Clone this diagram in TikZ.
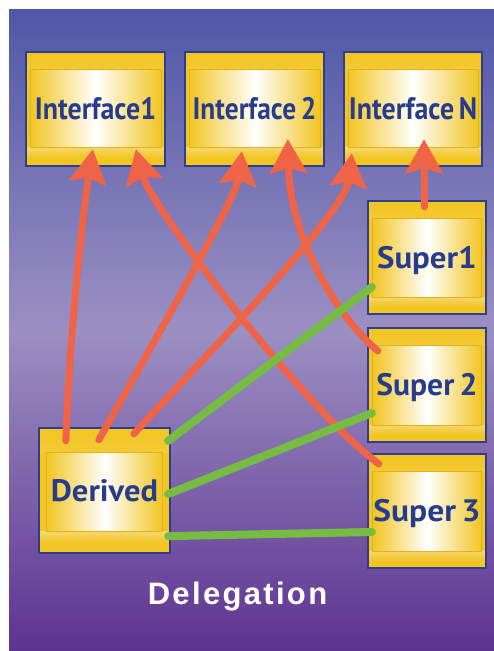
\documentclass[tikz,border=0pt]{standalone}
\usepackage{fontspec}
\setmainfont{Liberation Sans}
\newfontfamily\boxfont{PT Sans}
\newfontfamily\titlefont[LetterSpace=7.5]{Liberation Sans}
\usetikzlibrary{arrows.meta}

\definecolor{bgtop}{HTML}{4F58A7}
\definecolor{bgmid}{HTML}{9B8FC2}
\definecolor{bgbot}{HTML}{5E3391}
\definecolor{boxedge}{HTML}{2C3F8F}
\definecolor{boxyellow}{HTML}{F2C522}
\definecolor{boxlight}{HTML}{F8DD8A}
\definecolor{labelblue}{HTML}{283C8C}
\definecolor{inheritred}{HTML}{EF6446}
\definecolor{delegreen}{HTML}{76BC42}

% class name, squeezed or widened horizontally by #1
\newcommand\classname[2]{\scalebox{#1}[1]{#2}}

\tikzset{
  % yellow class box: side inset / top band / bottom band of the bright panel
  ybox/.style args={#1/#2/#3}{
    rectangle, draw=boxedge, line width=2.3pt, fill=boxyellow, inner sep=0pt,
    font=\boxfont\bfseries\fontsize{31}{31}\selectfont, text=labelblue,
    text height=21.7pt, text depth=0pt,
    path picture={
      \shade[top color=boxyellow, bottom color=boxlight]
        (path picture bounding box.north west)
        rectangle ([yshift=-#2]path picture bounding box.north east);
      \shade[top color=boxlight!75!boxyellow, bottom color=boxyellow]
        ([yshift=#3]path picture bounding box.south west)
        rectangle ([yshift=#3*0.45]path picture bounding box.south east);
      \shade[left color=boxyellow, right color=boxyellow, middle color=white,
             draw=boxyellow!92!black, line width=0.6pt]
        ([shift={(#1,-#2)}]path picture bounding box.north west)
        rectangle ([shift={(-#1,#3)}]path picture bounding box.south east);
    }
  },
  ifacebox/.style={ybox={4pt/17pt/19pt}, minimum width=139pt, minimum height=114pt},
  superbox/.style={ybox={4.5pt/17pt/17pt}, minimum width=118pt, minimum height=113pt},
  derivedbox/.style={ybox={7.5pt/24pt/22pt}, minimum width=131pt, minimum height=125pt},
  inherits/.style={draw=inheritred, line width=7pt, line cap=round,
    -{Stealth[length=34pt,width=37pt,inset=5pt]}},
  delegates/.style={draw=delegreen, line width=8pt, line cap=round},
  caption/.style={font=\titlefont\bfseries\fontsize{31}{31}\selectfont,
    text=white, text height=22.2pt, text depth=0pt, inner sep=0pt}
}

\begin{document}
\begin{tikzpicture}[x=1pt,y=-1pt]
\useasboundingbox (0,0) rectangle (494,651);

% backdrop
\shade[top color=bgtop, bottom color=bgbot, middle color=bgmid]
  (9,9) rectangle (494,651);

% interfaces
\node[ifacebox] (i1) at (95.5,109) {\classname{0.9}{Interface1}};
\node[ifacebox] (i2) at (254.5,109) {\classname{0.885}{Interface\,2}};
\node[ifacebox, minimum width=138pt] (iN) at (413,109) {\classname{0.9}{Interface\,N}};

% super classes
\node[superbox] (s1) at (427,257.5) {\classname{1.06}{Super1}};
\node[superbox, minimum height=114pt] (s2) at (427,385) {\classname{1.02}{Super\,2}};
\node[superbox, minimum height=114pt] (s3) at (427,511) {\classname{1.08}{Super\,3}};

% derived class
\node[derivedbox] (der) at (104.5,490.5) {\classname{1.05}{Derived}};

\node[caption] (title) at (237.5,593) {Delegation};

% inheritance arrows
\draw[inherits] ([shift={(28,14)}]der.north west)
  .. controls (70,330) and (82,220) .. ([shift={(68,-18)}]i1.south west);
\draw[inherits] ([shift={(61,13)}]der.north west)
  .. controls (135,375) and (236,200) .. ([shift={(58,-16)}]i2.south west);
\draw[inherits] ([shift={(96,7)}]der.north west)
  .. controls (175,388) and (345,215) .. ([shift={(9,-14)}]iN.south west);
\draw[inherits] ([shift={(-3,7)}]s1.north) -- ([shift={(11,-28)}]iN.south);
\draw[inherits] ([shift={(11,24)}]s2.north west)
  .. controls (340,320) and (290,240) .. ([shift={(104,-28)}]i2.south west);
\draw[inherits] ([shift={(12,11)}]s3.north west)
  .. controls (305,410) and (150,205) .. ([shift={(111,-18)}]i1.south west);

% delegation links
\draw[delegates] ([shift={(5,29.5)}]s1.west) -- ([shift={(-3,14)}]der.north east);
\draw[delegates] ([shift={(5,28)}]s2.west) -- ([shift={(-3,3.5)}]der.east);
\draw[delegates] ([shift={(5,21)}]s3.west) -- ([shift={(-3,-18)}]der.south east);
\end{tikzpicture}
\end{document}
